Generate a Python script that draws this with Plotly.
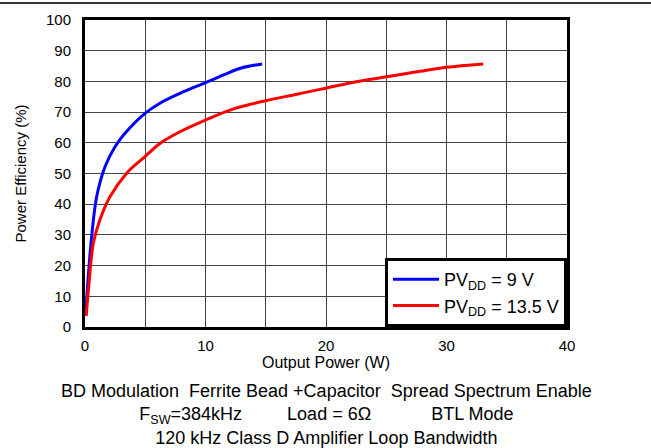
import plotly.graph_objects as go

# Data
pv9_x = [0.08, 0.3, 0.55, 0.97, 1.66, 2.49, 3.32, 4.98, 6.22, 7.88, 10.0, 11.5, 12.9, 14.7]
pv9_y = [5.5, 18.0, 29.4, 42.5, 52.2, 58.7, 63.1, 69.6, 72.9, 76.1, 79.6, 82.1, 84.3, 85.7]
pv135_x = [0.1, 0.35, 0.69, 1.24, 2.07, 3.46, 4.98, 6.22, 7.88, 10.0, 12.45, 15.0, 17.3, 19.5, 22.0, 25.0, 27.8, 30.0, 33.05]
pv135_y = [3.6, 15.0, 27.3, 34.9, 42.4, 50.1, 55.5, 59.8, 63.6, 67.4, 71.2, 73.7, 75.6, 77.4, 79.5, 81.5, 83.3, 84.6, 85.7]
series_names = ["PV<sub>DD</sub> = 9 V", "PV<sub>DD</sub> = 13.5 V"]
x_title = "Output Power (W)"
y_title = "Power Efficiency (%)"
NB = "\u00a0"
note_line1 = "BD Modulation" + NB * 2 + "Ferrite Bead +Capacitor" + NB * 2 + "Spread Spectrum Enable"
note_line2 = "F<sub>SW</sub>=384kHz" + NB * 9 + "Load = 6Ω" + NB * 12 + "BTL Mode"
note_line3 = "120 kHz Class D Amplifier Loop Bandwidth"

FONT = "Liberation Sans, Arial, sans-serif"

fig = go.Figure()
fig.add_trace(go.Scatter(x=pv9_x, y=pv9_y, mode="lines", name=series_names[0],
                         line=dict(color="#0000ff", width=3, shape="spline")))
fig.add_trace(go.Scatter(x=pv135_x, y=pv135_y, mode="lines", name=series_names[1],
                         line=dict(color="#ff0000", width=3, shape="spline")))

fig.update_layout(
    width=651, height=448,
    margin=dict(l=85, r=84, t=20, b=121),
    paper_bgcolor="white", plot_bgcolor="white",
    font=dict(family=FONT, color="black", size=14),
    showlegend=True,
    legend=dict(x=1, y=0, xanchor="right", yanchor="bottom",
                bgcolor="white", bordercolor="black", borderwidth=3,
                font=dict(size=18, family=FONT), tracegroupgap=0,
                itemwidth=46),
    xaxis=dict(range=[0, 40], dtick=10, showgrid=True, gridcolor="#444", gridwidth=1,
               minor=dict(dtick=5, showgrid=True, gridcolor="#444", gridwidth=1),
               showline=True, linecolor="black", linewidth=3, mirror=True,
               zeroline=False, ticks="", tickfont=dict(size=15), ticklabelstandoff=3,
               title=dict(text=x_title, font=dict(size=16), standoff=0)),
    yaxis=dict(range=[0, 100], dtick=10, showgrid=True, gridcolor="#444", gridwidth=1,
               showline=True, linecolor="black", linewidth=3, mirror=True,
               zeroline=False, ticks="", tickfont=dict(size=15), ticklabelstandoff=8,
               title=dict(text=y_title, font=dict(size=15), standoff=16)),
)

# top rule line
fig.add_shape(type="line", xref="paper", yref="paper",
              x0=-85/482, x1=1+84/482, y0=1+17/307, y1=1+17/307,
              line=dict(color="#333", width=2))

fig.add_annotation(text="<br>".join([note_line1, note_line2, note_line3]),
                   xref="paper", yref="paper",
                   x=(326-85)/482, y=(327-414)/307,
                   showarrow=False, xanchor="center", yanchor="middle", align="center",
                   borderpad=0, font=dict(size=18, family=FONT))

fig.write_html("out.html", config={"displayModeBar": False},
               post_script="document.body.style.margin='0';")
